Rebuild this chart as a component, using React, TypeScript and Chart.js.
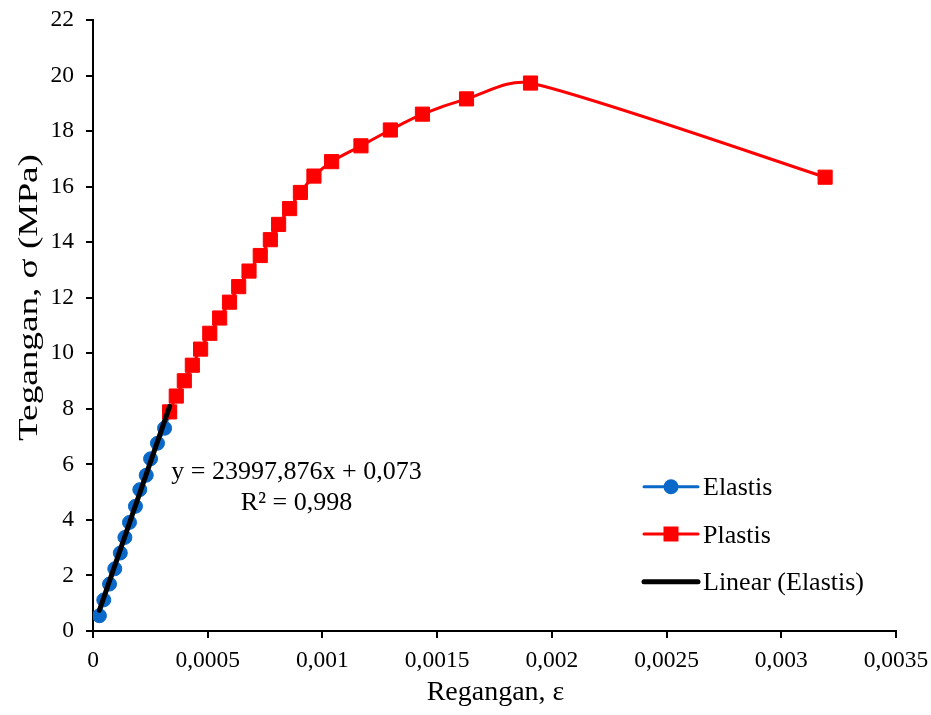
import { useEffect, useRef } from 'react';
import { Chart, registerables } from 'chart.js';

Chart.register(...registerables);

const FONT = "'Liberation Serif', 'Times New Roman', serif";

// ---- data ----
const xTickLabels = ['0', '0,0005', '0,001', '0,0015', '0,002', '0,0025', '0,003', '0,0035'];
const xStep = 0.0005;

const elastisStrain = [0.000028, 0.000047, 0.000072, 0.000095, 0.000119, 0.000139, 0.000159, 0.000185, 0.000204, 0.000232, 0.000251, 0.000281, 0.000312, 0.000334];
const elastisStress = [0.55, 1.12, 1.69, 2.24, 2.81, 3.37, 3.91, 4.49, 5.09, 5.61, 6.2, 6.76, 7.3, 7.89];

const plastisStrain = [0.000334, 0.000363, 0.000398, 0.000433, 0.000469, 0.000509, 0.000552, 0.000595, 0.000635, 0.00068, 0.000729, 0.000773, 0.000809, 0.000857, 0.000904, 0.000963, 0.00104, 0.001168, 0.001296, 0.001436, 0.001628, 0.001907, 0.003191];
const plastisStress = [7.89, 8.46, 9.01, 9.57, 10.15, 10.72, 11.27, 11.84, 12.4, 12.96, 13.52, 14.09, 14.64, 15.21, 15.79, 16.38, 16.9, 17.47, 18.04, 18.61, 19.16, 19.73, 16.34];

const trendSlope = 23997.876;
const trendIntercept = 0.073;
const equationText = 'y = 23997,876x + 0,073';
const r2Text = 'R² = 0,998';

const xTitle = 'Regangan, ε';
const yTitle = 'Tegangan, σ (MPa)';
const legendLabels = ['Elastis', 'Plastis', 'Linear (Elastis)'];

const BLUE = '#0A68C8';
const RED = '#FF0000';
const BLACK = '#000000';

const toPoints = (xs: number[], ys: number[]) => xs.map((x, i) => ({ x, y: ys[i] }));

const trendX = [Math.min(...elastisStrain), Math.max(...elastisStrain)];
const trendPoints = trendX.map((x) => ({ x, y: trendSlope * x + trendIntercept }));

// Spreadsheet-style smoothing: Bezier arms at 1/6 of the neighbour chord,
// each arm limited to a third of its own segment.
const smoothing = {
  id: 'smoothing',
  beforeDatasetDraw(chart: any, args: any) {
    const meta = args.meta;
    const ds: any = chart.data.datasets[args.index];
    if (!ds || !ds.spreadsheetSmooth || !meta.dataset) return;
    const line = meta.dataset;
    if (typeof line.updateControlPoints === 'function') {
      line.updateControlPoints(chart.chartArea, 'x');
    }
    const pts = meta.data;
    for (let i = 0; i < pts.length; i++) {
      const p = pts[i];
      const prev = pts[i - 1] || p;
      const next = pts[i + 1] || p;
      const tx = (next.x - prev.x) / 6;
      const ty = (next.y - prev.y) / 6;
      const len = Math.hypot(tx, ty) || 1;
      const dPrev = Math.hypot(p.x - prev.x, p.y - prev.y) / 3;
      const dNext = Math.hypot(next.x - p.x, next.y - p.y) / 3;
      const s1 = Math.min(1, dPrev / len);
      const s2 = Math.min(1, dNext / len);
      p.cp1x = p.x - tx * s1;
      p.cp1y = p.y - ty * s1;
      p.cp2x = p.x + tx * s2;
      p.cp2y = p.y + ty * s2;
    }
    line._path = undefined;
  },
};

const overlay = {
  id: 'overlay',
  afterDraw(chart: any) {
    const ctx: CanvasRenderingContext2D = chart.ctx;
    const ca = chart.chartArea;
    ctx.save();
    ctx.fillStyle = '#000';
    ctx.textBaseline = 'alphabetic';

    // x title
    ctx.font = `28px ${FONT}`;
    ctx.textAlign = 'center';
    ctx.fillText(xTitle, (ca.left + ca.right) / 2 + 1, 700);

    // y title (stretched along its length as in the reference)
    ctx.save();
    ctx.translate(37, 297.5);
    ctx.rotate(-Math.PI / 2);
    ctx.font = `28px ${FONT}`;
    const w = ctx.measureText(yTitle).width;
    ctx.scale(287 / w, 1);
    ctx.textAlign = 'center';
    ctx.fillText(yTitle, 0, 0);
    ctx.restore();

    // trendline equation
    ctx.font = `26px ${FONT}`;
    ctx.textAlign = 'center';
    ctx.fillText(equationText, 296.5, 479);
    ctx.fillText(r2Text, 296.5, 510);

    // legend
    const ys = [486.7, 534, 581.7];
    const x0 = 644;
    const x1 = 698;
    const cx = (x0 + x1) / 2;
    ctx.textAlign = 'left';
    ctx.font = `26px ${FONT}`;
    ys.forEach((y, i) => {
      ctx.beginPath();
      ctx.moveTo(x0, y);
      ctx.lineTo(x1, y);
      ctx.lineCap = 'round';
      if (i === 0) {
        ctx.strokeStyle = BLUE;
        ctx.lineWidth = 3;
        ctx.stroke();
        ctx.beginPath();
        ctx.fillStyle = BLUE;
        ctx.arc(cx, y, 7.5, 0, Math.PI * 2);
        ctx.fill();
      } else if (i === 1) {
        ctx.strokeStyle = RED;
        ctx.lineWidth = 3;
        ctx.stroke();
        ctx.fillStyle = RED;
        ctx.fillRect(cx - 7.5, y - 7.5, 15, 15);
      } else {
        ctx.strokeStyle = BLACK;
        ctx.lineWidth = 5;
        ctx.stroke();
      }
      ctx.fillStyle = '#000';
      ctx.fillText(legendLabels[i], 703, y + 8.6);
    });
    ctx.restore();
  },
};

export default function App() {
  const ref = useRef<HTMLCanvasElement>(null);

  useEffect(() => {
    const tickFont = { family: FONT, size: 23.5 };
    const gridOpts = {
      display: true,
      drawOnChartArea: false,
      drawTicks: true,
      tickLength: 7,
      color: '#000',
      lineWidth: 2,
      tickColor: '#000',
      tickWidth: 2,
    };
    const chart = new Chart(ref.current as HTMLCanvasElement, {
      type: 'scatter',
      data: {
        datasets: [
          {
            label: 'Linear (Elastis)',
            data: trendPoints,
            showLine: true,
            borderColor: BLACK,
            borderWidth: 5,
            pointRadius: 0,
            borderCapStyle: 'round',
            order: 0,
          } as any,
          {
            label: 'Plastis',
            data: toPoints(plastisStrain, plastisStress),
            showLine: true,
            spreadsheetSmooth: true,
            borderColor: RED,
            backgroundColor: RED,
            borderWidth: 3,
            tension: 0.4,
            pointStyle: 'rect',
            pointRadius: 10,
            pointBorderWidth: 1,
            pointBorderColor: RED,
            pointBackgroundColor: RED,
            order: 1,
          } as any,
          {
            label: 'Elastis',
            data: toPoints(elastisStrain, elastisStress),
            showLine: true,
            spreadsheetSmooth: true,
            borderColor: BLUE,
            backgroundColor: BLUE,
            borderWidth: 3,
            tension: 0.4,
            pointStyle: 'circle',
            pointRadius: 7,
            pointBorderWidth: 1,
            pointBorderColor: BLUE,
            pointBackgroundColor: BLUE,
            order: 2,
          } as any,
        ],
      },
      options: {
        animation: false,
        responsive: false,
        events: [],
        layout: { padding: { left: 0, top: 20, right: 35, bottom: 0 } },
        plugins: {
          legend: { display: false },
          tooltip: { enabled: false },
        },
        scales: {
          x: {
            type: 'linear',
            min: 0,
            max: 0.0035,
            grid: gridOpts,
            border: { display: true, color: '#000', width: 2 },
            ticks: {
              stepSize: xStep,
              font: tickFont,
              color: '#000',
              padding: 9,
              maxRotation: 0,
              autoSkip: false,
              callback: (v: any) => xTickLabels[Math.round(Number(v) / xStep)] ?? '',
            },
            afterFit: (s: any) => {
              s.height = 84;
              s.paddingLeft = 0;
              s.paddingRight = 0;
            },
          },
          y: {
            type: 'linear',
            min: 0,
            max: 22,
            grid: gridOpts,
            border: { display: true, color: '#000', width: 2 },
            ticks: {
              stepSize: 2,
              font: tickFont,
              color: '#000',
              padding: 12,
              autoSkip: false,
            },
            afterFit: (s: any) => {
              s.width = 93;
              s.paddingTop = 0;
              s.paddingBottom = 0;
            },
          },
        },
      } as any,
      plugins: [smoothing, overlay],
    });
    const fonts = (document as any).fonts;
    if (fonts && fonts.load) {
      fonts.load(`22px "Liberation Serif"`).then(() => chart.update()).catch(() => {});
    }
    return () => chart.destroy();
  }, []);

  return (
    <div style={{ position: 'fixed', left: 0, top: 0, width: 931, height: 715, background: '#fff' }}>
      <canvas ref={ref} width={931} height={715} style={{ display: 'block', width: 931, height: 715 }} />
    </div>
  );
}
